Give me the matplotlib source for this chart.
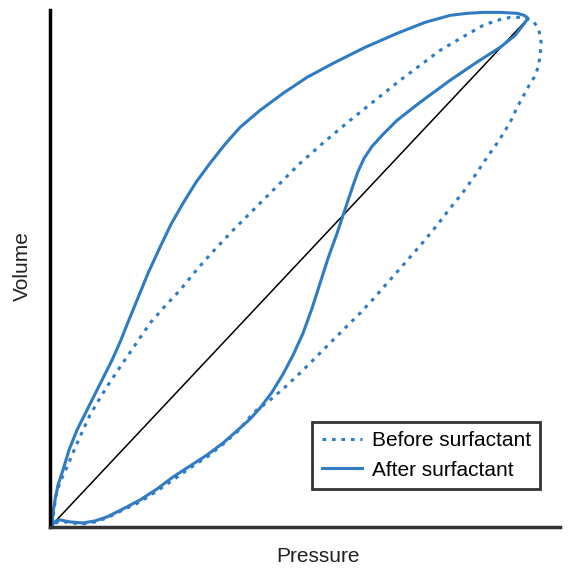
import matplotlib
matplotlib.use('Agg')
import matplotlib.pyplot as plt

# pressure / volume (0-100 scale, diagonal goes 0 -> 100)
# after surfactant: inflation limb (upper) and deflation limb (lower), both from the origin
after_up_p = [0, 0.21, 0.63, 1.26, 2.31, 3.57, 5.25, 7.35, 9.45, 11.13, 12.61, 14.29, 15.97, 17.86, 20.17,
              22.69, 25.0, 27.52, 30.25, 33.19, 36.34, 39.5, 43.7, 48.53, 53.57, 59.03, 65.76, 72.48,
              78.36, 83.61, 87.18, 90.55, 94.12, 97.69, 99.16, 100]
after_up_v = [0, 2.56, 4.93, 7.89, 10.85, 14.79, 18.74, 22.68, 26.63, 29.78, 32.54, 36.09, 40.04, 44.38, 49.7,
              54.83, 59.37, 63.51, 67.65, 71.4, 75.15, 78.5, 81.85, 85.21, 88.36, 91.12, 94.28, 97.04,
              99.21, 100.59, 100.99, 101.18, 101.18, 100.99, 100.59, 100]
after_dn_p = [0, 0.84, 1.68, 3.78, 6.51, 9.03, 11.55, 14.92, 18.49, 22.06, 25.42, 28.99, 32.56, 35.92, 39.5,
              41.6, 43.7, 46.22, 48.53, 50.63, 52.73, 54.62, 56.3, 57.98, 59.87, 61.13, 62.18, 63.24,
              64.29, 65.55, 67.23, 69.54, 72.48, 77.31, 83.61, 88.87, 94.12, 97.27, 100]
after_dn_v = [0, 0.79, 0.99, 0.59, 0.39, 0.79, 1.58, 3.16, 4.93, 7.1, 9.47, 11.64, 13.81, 16.17, 19.13,
              20.91, 23.08, 26.23, 29.78, 33.53, 37.87, 42.8, 47.73, 52.66, 57.59, 61.14, 64.1, 67.06,
              69.82, 72.39, 74.75, 77.12, 79.88, 83.43, 87.77, 91.12, 94.28, 96.65, 100]

# before surfactant: inflation limb from the origin, then the outer limb back down
before_up_p = [0, 0.42, 0.84, 1.68, 3.15, 4.83, 6.51, 7.98, 9.45, 11.76, 14.29, 17.44, 20.59, 23.74, 26.89,
               30.67, 34.66, 38.03, 41.6, 46.85, 52.1, 57.35, 62.61, 67.86, 73.11, 77.31, 81.51, 86.13,
               90.55, 93.49, 96.22, 98.32, 100]
before_up_v = [0, 2.96, 5.92, 8.48, 11.44, 15.19, 18.74, 21.7, 24.06, 27.61, 31.16, 35.5, 39.84, 43.2, 46.35,
               50.69, 54.83, 58.19, 61.54, 66.47, 71.4, 75.74, 79.88, 83.83, 87.77, 90.73, 93.69, 96.25,
               98.62, 99.61, 100.2, 100.2, 99.8]
before_dn_p = [101.26, 102.1, 102.52, 102.73, 102.52, 102.1, 101.26, 100.21, 98.74, 97.69, 96.22, 93.91,
               91.39, 88.87, 86.34, 83.61, 80.88, 77.94, 73.74, 70.38, 67.65, 64.71, 61.55, 58.4, 55.25,
               52.1, 48.95, 45.8, 42.23, 39.08, 35.71, 32.56, 28.99, 25.42, 22.06, 18.49, 14.92, 11.55,
               9.03, 6.51, 3.78, 1.68, 0]
before_dn_v = [99.21, 98.03, 96.65, 95.07, 92.7, 90.34, 88.36, 86.79, 84.22, 82.45, 79.49, 75.94,
               72.58, 69.03, 65.68, 62.52, 59.17, 55.82, 51.28, 47.73, 44.77, 41.81, 38.86, 35.9, 32.94,
               29.98, 27.22, 24.65, 22.09, 18.54, 15.78, 13.41, 11.24, 8.88, 6.71, 4.54, 2.96, 1.38,
               0.59, 0.2, 0.39, 0.79, 0]

plt.rcParams['font.family'] = ['Liberation Sans', 'DejaVu Sans']
blue = '#2f7bc4'

fig = plt.figure(figsize=(5.75, 5.69), dpi=100)
ax = fig.add_axes([0.087, 0.074, 0.887, 0.908])

ax.plot([0, 100], [0, 100], color='black', lw=1.1)
ax.plot(before_up_p + before_dn_p, before_up_v + before_dn_v, color=blue, lw=2.2,
        linestyle=(0, (1.2, 1.9)), label='Before surfactant')
ax.plot(after_up_p + after_dn_p[::-1], after_up_v + after_dn_v[::-1], color=blue, lw=2.2,
        label='After surfactant')

ax.set_xlim(-0.42, 106.7)
ax.set_ylim(-0.39, 101.6)
ax.set_xticks([])
ax.set_yticks([])
for s in ['top', 'right']:
    ax.spines[s].set_visible(False)
ax.spines['left'].set_linewidth(2.5)
ax.spines['bottom'].set_linewidth(2.5)
ax.spines['bottom'].set_color('#333333')

ax.set_xlabel('Pressure', fontsize=15, color='#222222')
ax.set_ylabel('Volume', fontsize=15, color='#222222')
ax.xaxis.set_label_coords(0.525, -0.039)
ax.yaxis.set_label_coords(-0.035, 0.505)

leg = ax.legend(loc='lower right', bbox_to_anchor=(0.961, 0.0735), fontsize=15, frameon=True,
                fancybox=False, edgecolor='black', handlelength=1.95, handletextpad=0.45,
                borderpad=0.45, labelspacing=0.5, borderaxespad=0)
leg.get_frame().set_linewidth(2.0)

fig.savefig('out.png', dpi=100)
